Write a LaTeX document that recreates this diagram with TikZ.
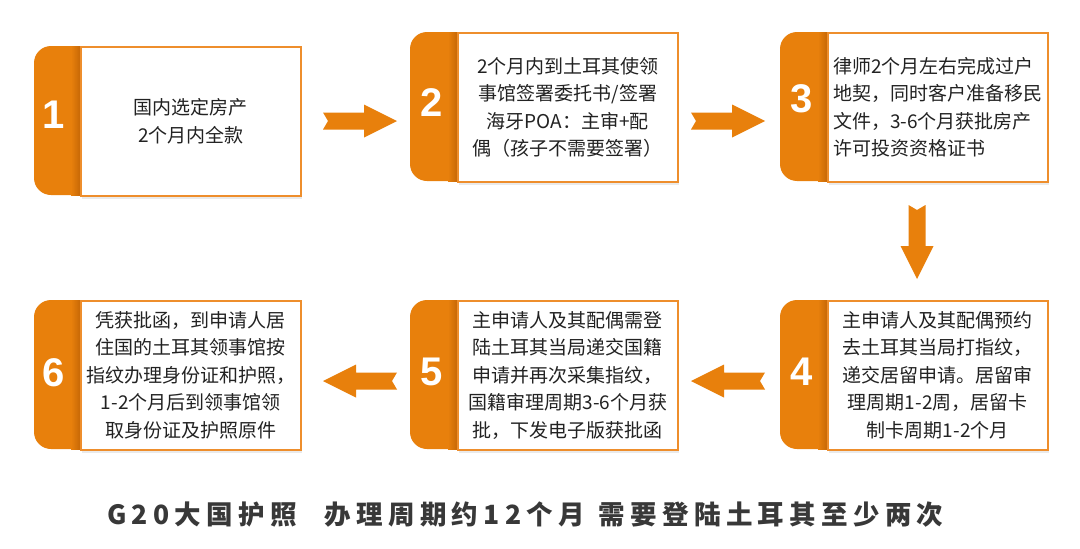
\documentclass[tikz,border=0pt]{standalone}
\usepackage{fontspec}
\newfontfamily\cjk{Noto Sans CJK SC}
\newfontfamily\cjkcap[LetterSpace=20]{Noto Sans CJK SC}
\newfontfamily\numf{Liberation Sans}
\usetikzlibrary{shadows,calc}
\definecolor{org}{HTML}{E8800C}
\definecolor{orgline}{HTML}{EE8E2C}
\definecolor{orgdark}{HTML}{C76806}
\definecolor{txt}{HTML}{222222}
\definecolor{captxt}{HTML}{383838}
\begin{document}
\begin{tikzpicture}[x=1pt,y=-1pt]
\tikzset{
  card/.style={draw=orgline, line width=1.6pt, fill=white, minimum width=220pt,
    minimum height=149pt, inner sep=0pt, anchor=north west,
    font=\cjk\fontsize{19}{27.5}\selectfont, text=txt, align=center,
    drop shadow={shadow xshift=1pt, shadow yshift=-3pt, opacity=0.16}},
  num/.style={text=white, inner sep=0pt, font=\numf\bfseries\fontsize{40}{40}\selectfont},
  blockarrow/.pic={\fill[org] (-37,-8.5) -- (4,-8.5) -- (4,-16.5) -- (37,0)
      -- (4,16.5) -- (4,8.5) -- (-37,8.5) -- (-32,0) -- cycle;},
  captext/.style={anchor=west, inner sep=0pt, text=captxt,
    font=\cjkcap\bfseries\fontsize{26.5}{26.5}\selectfont}
}
\useasboundingbox[fill=white] (0,0) rectangle (1080,549);

% tabs
\newcommand{\steptab}[3]{% left x, box left x, top y
  \fill[org, rounded corners=17pt] (#1,#3) rectangle (#2+20,#3+149);
  \shade[left color=org, right color=orgdark] (#2-9,#3) rectangle (#2,#3+149);
}
\steptab{34}{80}{46}
\steptab{410}{457}{32}
\steptab{780}{827}{32}
\steptab{34}{80}{300}
\steptab{410}{457}{300}
\steptab{780}{827}{300}

% cards
\node[card] (b1) at (80,46) {国内选定房产\\2个月内全款};
\node[card] (b2) at (457,32) {2个月内到土耳其使领\\事馆签署委托书/签署\\海牙POA：主审+配\\偶（孩子不需要签署）};
\node[card, align=left] (b3) at (827,32) {律师2个月左右完成过户\\地契，同时客户准备移民\\文件，3-6个月获批房产\\许可投资资格证书};
\node[card] (b4) at (827,300) {主申请人及其配偶预约\\去土耳其当局打指纹，\\递交居留申请。居留审\\理周期1-2周，居留卡\\制卡周期1-2个月};
\node[card] (b5) at (457,300) {主申请人及其配偶需登\\陆土耳其当局递交国籍\\申请并再次采集指纹，\\国籍审理周期3-6个月获\\批，下发电子版获批函};
\node[card] (b6) at (80,300) {凭获批函，到申请人居\\住国的土耳其领事馆按\\指纹办理身份证和护照，\\1-2个月后到领事馆领\\取身份证及护照原件};

% numbers
\node[num] (n1) at (54,115) {1};
\node[num] (n2) at (432,103) {2};
\node[num] (n3) at (802,99) {3};
\node[num] (n4) at (802,372) {4};
\node[num] (n5) at (432,372) {5};
\node[num] (n6) at (54,373) {6};

% connectors
\coordinate (a12) at (360,121);
\coordinate (a23) at (728,121);
\coordinate (a34) at (917,242);
\coordinate (a45) at (728,381);
\coordinate (a56) at (360,381);
\pic at (a12) {blockarrow};
\pic at (a23) {blockarrow};
\pic[rotate=-90] at (a34) {blockarrow};
\pic[xscale=-1] at (a45) {blockarrow};
\pic[xscale=-1] at (a56) {blockarrow};

% caption
\node[captext] (cap) at (107,515) {G20大国护照\hspace{28pt}办理周期约12个月\hspace{14pt}需要登陆土耳其至少两次};
\end{tikzpicture}
\end{document}
